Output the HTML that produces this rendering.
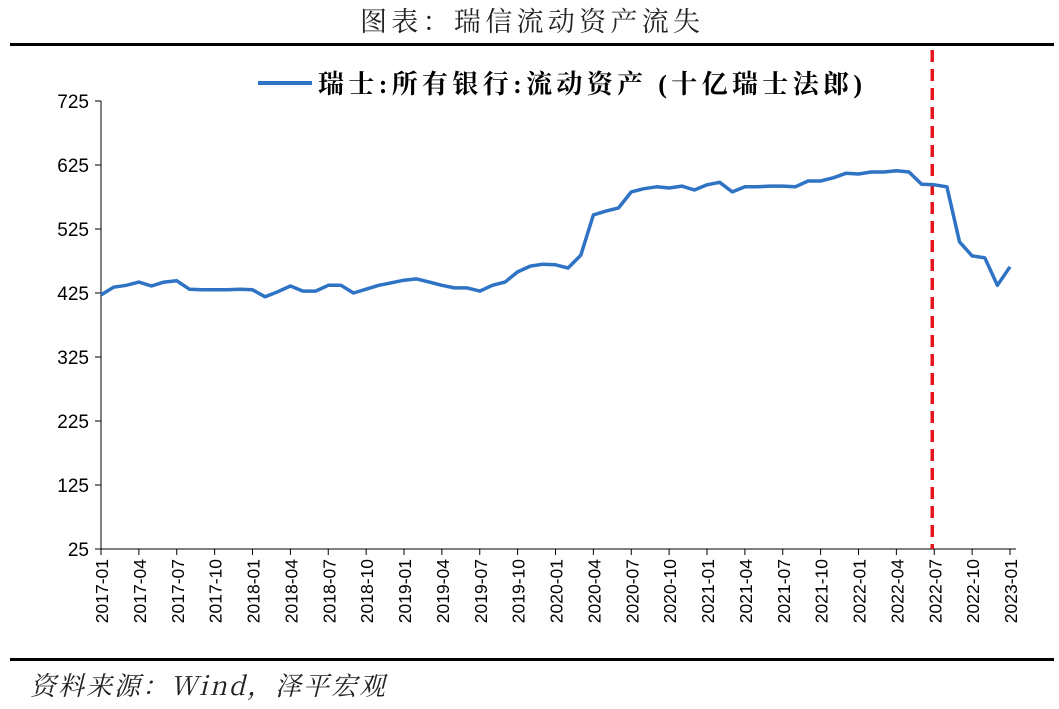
<!DOCTYPE html>
<html><head><meta charset="utf-8"><style>
body{margin:0;background:#fff;width:1059px;height:704px;overflow:hidden;font-family:"Liberation Serif","Noto Serif CJK SC",serif}
</style></head><body>
<svg width="1059" height="704">
<text x="530" y="31" text-anchor="middle" font-size="27" fill="#222" font-family="'Noto Serif CJK SC',serif" textLength="340">图表：瑞信流动资产流失</text>
<rect x="10" y="43" width="1044" height="3" fill="#000"/>
<rect x="10" y="658" width="1044" height="3" fill="#000"/>
<text x="30" y="695" font-size="26" font-style="italic" fill="#222" font-family="'Noto Serif CJK SC',serif" textLength="355">资料来源：Wind，泽平宏观</text>
<line x1="258" y1="83" x2="312" y2="83" stroke="#2e73c4" stroke-width="4"/>
<text x="318" y="93" font-size="26" font-weight="bold" fill="#000" font-family="'Liberation Serif','Noto Serif CJK SC',serif" textLength="544">瑞士:所有银行:流动资产 (十亿瑞士法郎)</text>
<g id="axes"></g>
<g id="marks"></g>
</svg>
<script>
const months=["2017-01","2017-02","2017-03","2017-04","2017-05","2017-06","2017-07","2017-08","2017-09","2017-10","2017-11","2017-12","2018-01","2018-02","2018-03","2018-04","2018-05","2018-06","2018-07","2018-08","2018-09","2018-10","2018-11","2018-12","2019-01","2019-02","2019-03","2019-04","2019-05","2019-06","2019-07","2019-08","2019-09","2019-10","2019-11","2019-12","2020-01","2020-02","2020-03","2020-04","2020-05","2020-06","2020-07","2020-08","2020-09","2020-10","2020-11","2020-12","2021-01","2021-02","2021-03","2021-04","2021-05","2021-06","2021-07","2021-08","2021-09","2021-10","2021-11","2021-12","2022-01","2022-02","2022-03","2022-04","2022-05","2022-06","2022-07","2022-08","2022-09","2022-10","2022-11","2022-12","2023-01"];
const values=[422,434,437,442,436,442,444,431,430,430,430,431,430,419,427,436,428,428,437,437,425,431,437,441,445,447,442,437,433,433,428,437,442,458,467,470,469,464,484,547,553,558,583,588,591,589,592,586,594,598,583,591,591,592,592,591,600,600,605,612,611,614,614,616,614,595,594,591,505,483,480,437,466];
const yTicks=[25,125,225,325,425,525,625,725];
const markerMonth="2022-07";
const NS="http://www.w3.org/2000/svg";
const x0=101,dx=12.625,yBase=549,yScale=0.64;
function X(i){return x0+i*dx}
function Y(v){return yBase-(v-25)*yScale}
function mk(t,a,p){const e=document.createElementNS(NS,t);for(const k in a)e.setAttribute(k,a[k]);p.appendChild(e);return e}
const ax=document.getElementById('axes'),mg=document.getElementById('marks');
const yl=mk('line',{x1:x0,y1:Y(725),x2:x0,y2:yBase,stroke:'#000','stroke-width':1},ax);


const xl=mk('line',{x1:x0,y1:yBase,x2:X(months.length-1)+6,y2:yBase,stroke:'#000','stroke-width':1},ax);


yTicks.forEach(v=>{
  mk('line',{x1:x0-6,y1:Y(v),x2:x0,y2:Y(v),stroke:'#000'},ax);
  const t=mk('text',{x:x0-12,y:Y(v)+7,'text-anchor':'end','font-size':19,'font-family':'Liberation Sans,sans-serif'},ax);
  t.textContent=v;
  
  
});
months.forEach((m,i)=>{
  if(i%3!==0)return;
  mk('line',{x1:X(i),y1:yBase,x2:X(i),y2:yBase+6,stroke:'#000'},ax);
  const t=mk('text',{x:0,y:0,transform:`translate(${X(i)+7},${yBase+10}) rotate(-90)`,'text-anchor':'end','font-size':17.5,'font-family':'Liberation Sans,sans-serif'},ax);
  t.textContent=m;
  
  
});
const mi=months.indexOf(markerMonth);
const rl=mk('line',{x1:X(mi)-2,y1:50,x2:X(mi)-2,y2:yBase,stroke:'#e8141b','stroke-width':3.5,'stroke-dasharray':'12,7'},mg);


let d='';
values.forEach((v,i)=>{d+=(i?'L':'M')+X(i).toFixed(1)+','+Y(v).toFixed(1)});
const p=mk('path',{d:d,fill:'none',stroke:'#2e73c4','stroke-width':3.5,'stroke-linejoin':'round'},mg);


</script>
</body></html>
